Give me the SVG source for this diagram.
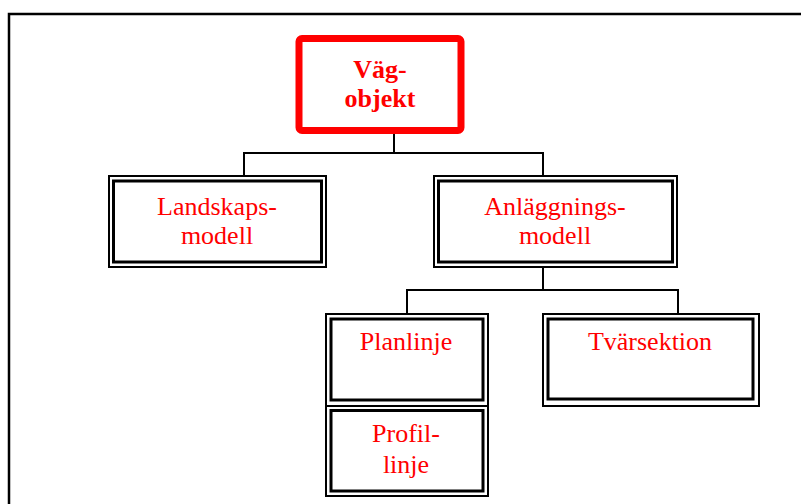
<svg xmlns="http://www.w3.org/2000/svg" width="801" height="504" viewBox="0 0 801 504">
<style>
.o{fill:none;stroke:#000;stroke-width:2}
.i{fill:none;stroke:#000;stroke-width:3}
.t{font-family:"Liberation Serif","Times New Roman",serif;font-size:26px;fill:#ff0000;text-anchor:middle}
.c{fill:none;stroke:#000;stroke-width:2}
</style>
<rect width="801" height="504" fill="#fff"/>
<path d="M9,504 V14 H801" fill="none" stroke="#000" stroke-width="2.5"/>
<g id="connectors">
<path class="c" d="M394,134 V153"/>
<path class="c" d="M244,176 V153 H543 V176"/>
<path class="c" d="M543,267 V290"/>
<path class="c" d="M407,314 V290 H678 V314"/>
</g>
<g id="vagobjekt">
<rect x="299" y="38.5" width="162" height="92" rx="3" fill="#fff" stroke="#ff0000" stroke-width="7"/>
<text class="t" x="380" y="78" font-weight="bold">Väg-</text>
<text class="t" x="380" y="107" font-weight="bold">objekt</text>
</g>
<g id="landskapsmodell">
<rect class="o" x="109" y="176" width="217" height="91"/>
<rect class="i" x="113.5" y="181" width="208" height="81"/>
<text class="t" x="217" y="215">Landskaps-</text>
<text class="t" x="217" y="244">modell</text>
</g>
<g id="anlaggningsmodell">
<rect class="o" x="434" y="176" width="243" height="91"/>
<rect class="i" x="438.5" y="181" width="234" height="81"/>
<text class="t" x="555" y="215">Anläggnings-</text>
<text class="t" x="555" y="244">modell</text>
</g>
<g id="planlinje">
<rect class="o" x="326" y="314" width="162" height="92"/>
<rect class="i" x="331" y="319" width="152" height="81"/>
<text class="t" x="406" y="350">Planlinje</text>
</g>
<g id="profillinje">
<rect class="o" x="326" y="406" width="162" height="90"/>
<rect class="i" x="331" y="410.5" width="152" height="80.5"/>
<text class="t" x="406" y="442">Profil-</text>
<text class="t" x="406" y="473">linje</text>
</g>
<g id="tvarsektion">
<rect class="o" x="543" y="314" width="216" height="92"/>
<rect class="i" x="548" y="319" width="205" height="80"/>
<text class="t" x="650" y="350">Tvärsektion</text>
</g>
</svg>
